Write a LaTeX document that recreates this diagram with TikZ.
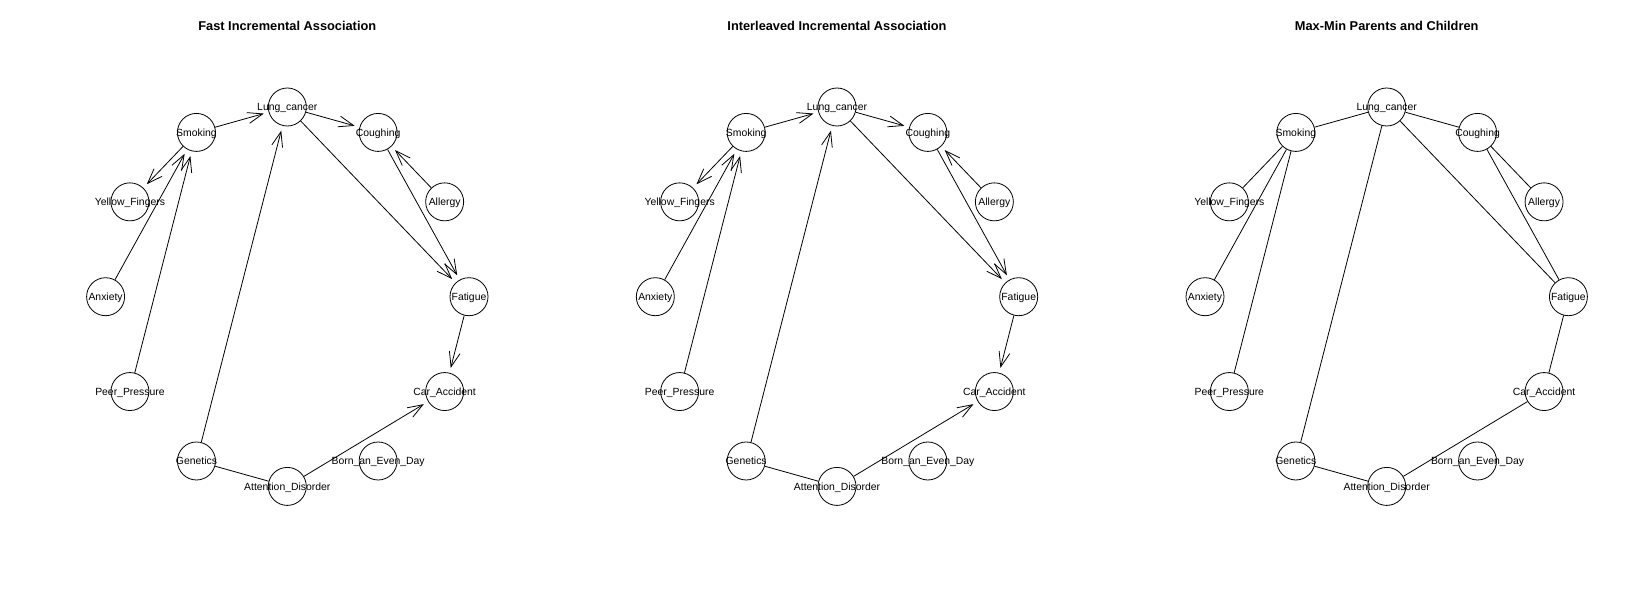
\documentclass[tikz,border=0pt]{standalone}
\usepackage{fontspec}
\setmainfont{Liberation Sans}
\usetikzlibrary{arrows.meta}

\tikzset{bnv/.style={circle,draw,fill=none,inner sep=0pt,minimum size=38pt,line width=0.8pt},
         bnlab/.style={font=\fontsize{10.4}{12}\selectfont,inner sep=0pt,anchor=base},
         bntitle/.style={font=\fontsize{12.8}{15}\selectfont\bfseries},
         bnarc/.style={-{Straight Barb[length=15pt,width=11pt,line width=0.8pt]},line width=0.8pt,shorten >=5pt},
         bnedge/.style={line width=0.8pt}}

\begin{document}
\begin{tikzpicture}[x=1pt,y=-1pt]
  \useasboundingbox (0,0) rectangle (1649,607);
  % three panels, nodes on an ellipse
  \foreach \p/\dx/\ttl in {1/0/Fast Incremental Association,2/549.7/Interleaved Incremental Association,3/1099.4/Max-Min Parents and Children}
    {\node[bntitle] (title\p) at (287.3+\dx,26) {\ttl};
     \foreach \n/\t/\a in {lung/Lung\_cancer/90,coughing/Coughing/60,allergy/Allergy/30,fatigue/Fatigue/0,
                           car/Car\_Accident/-30,born/Born\_an\_Even\_Day/-60,attention/Attention\_Disorder/-90,
                           genetics/Genetics/-120,peer/Peer\_Pressure/210,anxiety/Anxiety/180,
                           yellow/Yellow\_Fingers/150,smoking/Smoking/120}
       {\node[bnv] (p\p-\n) at ({287.3+\dx+181.7*cos(\a)},{296.7-189.7*sin(\a)}) {};
        \node[bnlab] at ([yshift=-3.7pt]p\p-\n) {\t};}}
  % directed arcs (FIA, IAMB)
  \foreach \p in {1,2}
    {\foreach \u/\v in {smoking/lung,lung/coughing,smoking/yellow,anxiety/smoking,peer/smoking,
                        genetics/lung,lung/fatigue,coughing/fatigue,allergy/coughing,
                        fatigue/car,attention/car}
       \draw[bnarc] (p\p-\u) -- (p\p-\v);
     \draw[bnedge] (p\p-genetics) -- (p\p-attention);}
  % undirected skeleton (MMPC)
  \foreach \u/\v in {smoking/lung,lung/coughing,smoking/yellow,smoking/anxiety,smoking/peer,
                     lung/genetics,lung/fatigue,coughing/fatigue,coughing/allergy,
                     fatigue/car,car/attention,genetics/attention}
    \draw[bnedge] (p3-\u) -- (p3-\v);
\end{tikzpicture}
\end{document}
